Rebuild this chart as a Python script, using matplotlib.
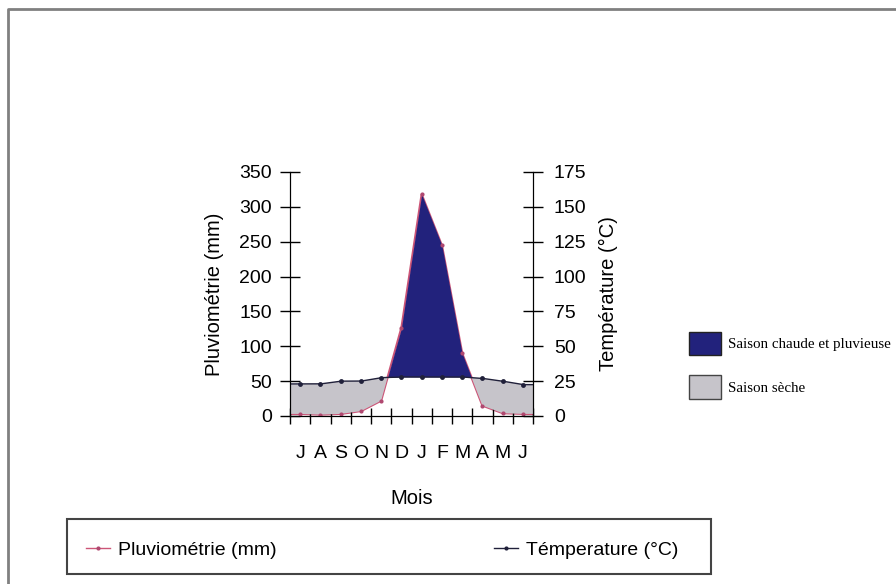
import numpy as np
import matplotlib
matplotlib.use('Agg')
import matplotlib.pyplot as plt
from matplotlib.lines import Line2D
from matplotlib.patches import Patch, Rectangle

plt.rcParams['font.family'] = ['Liberation Sans', 'DejaVu Sans']

# données
mois = ['J', 'A', 'S', 'O', 'N', 'D', 'J', 'F', 'M', 'A', 'M', 'J']
pluie = [3, 2, 3, 7, 22, 126, 318, 245, 90, 15, 4, 3]           # mm
temp = [23, 23, 25, 25, 27.5, 28, 28, 28, 28, 27, 25, 22.5]      # °C

C_PLUIE = '#cc5577'
C_TEMP = '#20203a'
C_HUMIDE = '#22227c'
C_SEC = '#c6c4ca'

W, H = 896, 584
fig = plt.figure(figsize=(W / 100, H / 100), dpi=100)
ax = fig.add_axes([290 / W, 1 - 416 / H, 243 / W, 244 / H])
ax2 = ax.twinx()

x = np.arange(len(mois)) + 0.5
ax.set_xlim(0, len(mois))
ax.set_ylim(0, 350)
ax2.set_ylim(0, 175)

# remplissage saisons (P = 2T)
xf = np.linspace(0, len(mois), 2000)
pf = np.interp(xf, x, pluie)
tf = 2 * np.interp(xf, x, temp)
ax.plot(xf, pf, color=C_PLUIE, lw=1.6, zorder=1)
ax.fill_between(xf, tf, pf, where=pf >= tf, color=C_HUMIDE, lw=0, interpolate=True, zorder=2)
ax.fill_between(xf, pf, tf, where=pf < tf, color=C_SEC, lw=0, interpolate=True, zorder=2)
ax.plot(x, pluie, 'o', color='#b04870', ms=3, mec='none', zorder=3)

# température
ax2.plot(xf, tf / 2, color=C_TEMP, lw=1)
ax2.plot(x, temp, 'o', color=C_TEMP, ms=3.5, mec='none')

# axes
for a in (ax, ax2):
    a.spines['top'].set_visible(False)
ax.set_yticks(range(0, 351, 50))
ax2.set_yticks(range(0, 176, 25))
ax.tick_params(axis='y', direction='inout', length=14, width=1, pad=6, labelsize=14)
ax2.tick_params(axis='y', direction='inout', length=14, width=1, pad=8, labelsize=14)
ax.set_xticks(range(0, len(mois) + 1))
ax.set_xticklabels([])
ax.set_xticks(x, minor=True)
ax.set_xticklabels(mois, minor=True)
ax.tick_params(axis='x', which='major', direction='inout', length=11, width=1)
ax.tick_params(axis='x', which='minor', length=0, pad=21, labelsize=14)

ax.set_ylabel('Pluviométrie (mm)', fontsize=14.5, labelpad=11)
ax2.set_ylabel('Température (°C)', fontsize=14.5, labelpad=9, rotation=90)
ax.set_xlabel('Mois', fontsize=14.5, labelpad=19)

# légende des saisons
saisons = [Patch(facecolor=C_HUMIDE, edgecolor='#222222', lw=1),
           Patch(facecolor=C_SEC, edgecolor='#444444', lw=1)]
fig.legend(saisons, ['Saison chaude et pluvieuse', 'Saison sèche'],
           loc='upper left', bbox_to_anchor=(681 / W, 1 - 324 / H),
           frameon=False, borderpad=0, handlelength=2.16, handleheight=2.03,
           labelspacing=1.34, handletextpad=0.46,
           prop={'family': 'Liberation Serif', 'size': 10.8})

# légende des séries
series = [Line2D([], [], color=C_PLUIE, lw=1, marker='o', ms=3, mfc='#b04870', mec='none'),
          Line2D([], [], color=C_TEMP, lw=1, marker='o', ms=3, mfc=C_TEMP, mec='none')]
fig.legend(series, ['Pluviométrie (mm)', 'Témperature (°C)'],
           loc='center left', bbox_to_anchor=(67 / W, 1 - 582 / H, (697 - 67) / W, 64 / H),
           mode='expand', ncol=2, frameon=False, fontsize=14,
           handlelength=1.25, handletextpad=0.4, borderpad=0.46, numpoints=1)
fig.add_artist(Rectangle((67 / W, 1 - 574 / H), 644 / W, 55 / H, transform=fig.transFigure,
                         fill=False, edgecolor='#444444', lw=1.5))

# cadre extérieur
fig.add_artist(Line2D([8 / W, 8 / W, 1], [0, 1 - 9 / H, 1 - 9 / H], transform=fig.transFigure,
                      color='#808080', lw=2))

fig.savefig('out.png', dpi=100)
